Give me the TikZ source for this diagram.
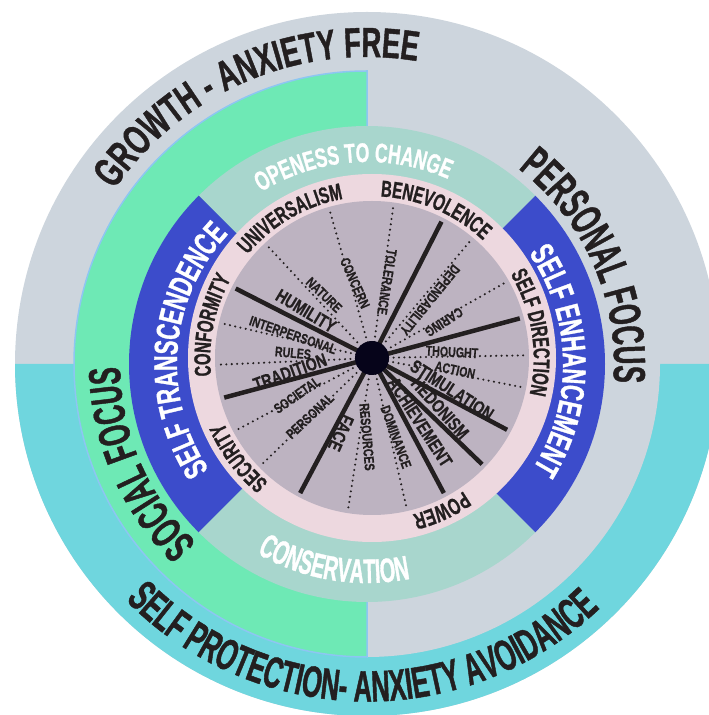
\documentclass[tikz,border=0pt]{standalone}
\usepackage{fontspec}
\usepackage{xcolor}
\usetikzlibrary{decorations.text}
\newfontfamily\bebas[FakeStretch=0.65,FakeBold=1]{Liberation Sans Bold}
\newfontfamily\bebasnarrow[FakeStretch=0.58,FakeBold=1]{Liberation Sans Bold}
\newfontfamily\bebaswide[FakeStretch=0.76,FakeBold=0.6]{Liberation Sans Bold}
\newcommand\bandfont{\bebas\fontsize{42}{42}\selectfont}
\newcommand\lowbandfont{\bebasnarrow\fontsize{44}{44}\selectfont}
\newcommand\focusfont{\bebasnarrow\fontsize{45}{45}\selectfont}
\newcommand\motivefont{\bebas\fontsize{33}{33}\selectfont}
\newcommand\openfont{\bebas\fontsize{27}{27}\selectfont}
\newcommand\consfont{\bebasnarrow\fontsize{34}{34}\selectfont}
\newcommand\valuefont{\bebas\fontsize{23}{23}\selectfont}
\definecolor{ringgray}{HTML}{CDD5DD}
\definecolor{cyanring}{HTML}{6FD6DE}
\definecolor{focusgreen}{HTML}{6EE9B5}
\definecolor{greenedge}{HTML}{8DC6F2}
\definecolor{tealband}{HTML}{A8D6CD}
\definecolor{blueband}{HTML}{3C4CCB}
\definecolor{valuepink}{HTML}{EDD8DF}
\definecolor{mauve}{HTML}{BDB3C1}
\definecolor{ink}{HTML}{231F20}
\definecolor{hubblack}{HTML}{06041A}
\tikzset{
  inkarc/.style={decorate,decoration={text along path,text align=center,text color=ink}},
  whitearc/.style={decorate,decoration={text along path,text align=center,text color=white}},
  strongspoke/.style={draw=ink,line width=4.5pt},
  softspoke/.style={draw=ink,line width=2.3pt,line cap=round,dash pattern=on 0pt off 5.4pt},
  valuetag/.style={font=\bebaswide\fontsize{18.5}{18.5}\selectfont,text=ink,inner sep=0pt},
  subtag/.style={font=\bebaswide\fontsize{14}{14}\selectfont,text=ink,inner sep=0pt},
  hubdot/.style={circle,fill=hubblack,minimum size=34pt,inner sep=0pt}
}

\begin{document}
\begin{tikzpicture}[x=1pt,y=1pt]
  \useasboundingbox (0,0) rectangle (709,715);
  \clip (0,0) rectangle (709,715);
  \coordinate (O) at (367,351);
  \coordinate (hub) at (372,357);

  % anxiety ring
  \fill[ringgray] (O) circle[radius=352];
  \fill[cyanring] ([shift={(180:352)}]O) arc[start angle=180,end angle=360,radius=352] -- cycle;
  % focus ring
  \fill[ringgray] ([shift={(-90:293)}]O) arc[start angle=-90,end angle=90,radius=293] -- cycle;
  \filldraw[fill=focusgreen,draw=greenedge,line width=1.5pt]
    ([shift={(90:293)}]O) arc[start angle=90,end angle=270,radius=293] -- cycle;
  % higher order values
  \foreach \a/\c in {45/tealband,135/blueband,225/tealband,315/blueband}
    \fill[\c] (O) -- ([shift={(\a:238)}]O) arc[start angle=\a,end angle=\a+90,radius=238] -- cycle;
  % values
  \fill[valuepink] (hub) circle[radius=184];
  \fill[mauve] (hub) circle[radius=157];

  % spokes
  \foreach \a [count=\i] in {63,15,-28,-44,-62,242,195,153} {
    \coordinate (s\i) at ([shift={(\a:153)}]hub);
    \draw[strongspoke] (hub) -- (s\i);
  }
  \foreach \a [count=\i] in {106,82,50,29.5,1,-11,261,283,224,208,182.5,167,133} {
    \coordinate (d\i) at ([shift={(\a:156)}]hub);
    \draw[softspoke] (hub) -- (d\i);
  }
  \node[hubdot] (dot) at (hub) {};

  % ring texts
  \path[inkarc,decoration={text={|\bandfont|GROWTH - ANXIETY FREE}}]
    ([shift={(173:307)}]O) arc[start angle=173,end angle=53,radius=307];
  \path[inkarc,decoration={text={|\lowbandfont|SELF PROTECTION- ANXIETY AVOIDANCE}}]
    ([shift={(209:337.5)}]O) arc[start angle=209,end angle=329,radius=337.5];
  \path[inkarc,decoration={text={|\focusfont|PERSONAL FOCUS}}]
    ([shift={(84:247)}]O) arc[start angle=84,end angle=-36,radius=247];
  \path[inkarc,decoration={text={|\focusfont|SOCIAL FOCUS}}]
    ([shift={(263.5:247)}]O) arc[start angle=263.5,end angle=143.5,radius=247];
  \path[whitearc,decoration={text={|\openfont|OPENESS TO CHANGE}}]
    ([shift={(144:202)}]O) arc[start angle=144,end angle=44,radius=202];
  \path[whitearc,decoration={text={|\consfont|CONSERVATION}}]
    ([shift={(200.6:219)}]O) arc[start angle=200.6,end angle=320.6,radius=219];
  \path[whitearc,decoration={text={|\motivefont|SELF TRANSCENDENCE}}]
    ([shift={(235.3:190)}]O) arc[start angle=235.3,end angle=115.3,radius=190];
  \path[whitearc,decoration={text={|\motivefont|SELF ENHANCEMENT}}]
    ([shift={(61.1:196)}]O) arc[start angle=61.1,end angle=-58.9,radius=196];
  \foreach \m/\t in {120.3/UNIVERSALISM,66.8/BENEVOLENCE,9.1/SELF DIRECTION,
                     -65.5/POWER,216.8/SECURITY,168.5/CONFORMITY}
    \path[inkarc,decoration={text={|\valuefont|\t}}]
      ([shift={(\m+40:161.7)}]hub) arc[start angle=\m+40,end angle=\m-40,radius=161.7];

  % value items
  \node[subtag,rotate=-44] (nature) at (324,420) {NATURE};
  \node[subtag,rotate=-66] (concern) at (355,432) {CONCERN};
  \node[subtag,rotate=-99] (tolerance) at (387,433) {TOLERANCE};
  \node[subtag,rotate=-129] (dependability) at (430,415) {DEPENDABILITY};
  \node[subtag,rotate=-147] (caring) at (444,393) {CARING};
  \node[subtag,rotate=-3] (thought) at (452,363) {THOUGHT};
  \node[subtag,rotate=-12] (action) at (455,345) {ACTION};
  \node[valuetag,rotate=-33] (stimulation) at (452,325) {STIMULATION};
  \node[valuetag,rotate=-48] (hedonism) at (440,307) {HEDONISM};
  \node[valuetag,rotate=-57] (achievement) at (420,293) {ACHIEVEMENT};
  \node[subtag,rotate=-70] (dominance) at (396,278) {DOMINANCE};
  \node[subtag,rotate=-85] (resources) at (367,278) {RESOURCES};
  \node[valuetag,rotate=-114] (face) at (341,282) {FACE};
  \node[subtag,rotate=43] (personal) at (310,299) {PERSONAL};
  \node[subtag,rotate=35] (societal) at (297,320) {SOCIETAL};
  \node[valuetag,rotate=20] (tradition) at (290,343) {TRADITION};
  \node[subtag,rotate=-5] (rules) at (293,362) {RULES};
  \node[subtag,rotate=-19] (interpersonal) at (293,380) {INTERPERSONAL};
  \node[valuetag,rotate=-31] (humility) at (306,404) {HUMILITY};
\end{tikzpicture}
\end{document}
